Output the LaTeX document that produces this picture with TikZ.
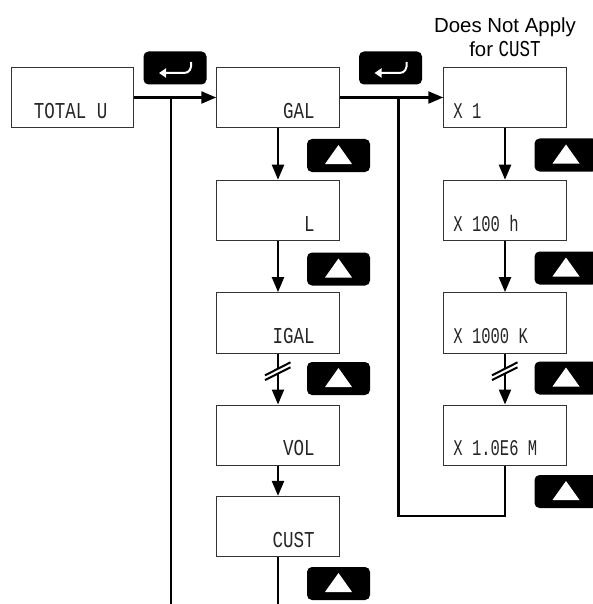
\documentclass[tikz,border=0pt]{standalone}
\usepackage{graphicx}
\usepackage{fontspec}
\setmainfont{Liberation Sans}
\newfontfamily\lcdfont{Liberation Mono}
\usetikzlibrary{arrows.meta,positioning}
\newcommand{\lcd}[1]{\scalebox{1}[1.3]{\lcdfont\fontsize{17.5}{17.5}\selectfont #1}}
\newcommand{\lcdn}[1]{\scalebox{1}[1.45]{\lcdfont\fontsize{15.5}{15.5}\selectfont #1}}

\begin{document}
\begin{tikzpicture}[
  x=1pt, y=-1pt,
  node distance=51pt and 82pt,
  disp/.style={rectangle, draw=black!80, line width=0.9pt, fill=white,
    minimum width=122.6pt, minimum height=60.5pt, inner sep=0pt},
  lbl/.style={inner sep=0pt, text=black!85},
  btn/.style={rectangle, rounded corners=5pt, fill=black, minimum width=63pt,
    minimum height=33pt, inner sep=0pt},
  upbtn/.style={btn, path picture={
    \fill[white, sharp corners] ([shift={(0,-10.5)}]path picture bounding box.center)
      -- ([shift={(13.5,8.5)}]path picture bounding box.center)
      -- ([shift={(-13.5,8.5)}]path picture bounding box.center) -- cycle;}},
  enterbtn/.style={btn, path picture={
    \draw[white, sharp corners, line width=2pt, -{Triangle[length=7pt,width=9pt]}]
      ([shift={(16,-6)}]path picture bounding box.center)
      .. controls ([shift={(17,1)}]path picture bounding box.center)
      and ([shift={(14,5)}]path picture bounding box.center)
      .. ([shift={(9,5)}]path picture bounding box.center)
      -- ([shift={(-16,5)}]path picture bounding box.center);}},
  wire/.style={line width=2.3pt, draw=black},
  arr/.style={wire, -{Triangle[length=15pt,width=12pt]}},
  brk/.pic={
    \fill[white] (-13,5) -- (12.5,-8) -- (12.5,-3) -- (-13,9.7) -- cycle;
    \draw[-, line width=2pt] (-13,5) -- (12.5,-8);
    \draw[-, line width=2pt] (-13,9.7) -- (12.5,-3);
  },
]
\clip (0,0) rectangle (593,604);
\useasboundingbox (0,0) rectangle (593,604);
\fill[white] (0,0) rectangle (593,604);

\node[disp] (total) at (72.5,97.5) {};
\node[disp, right=82pt of total] (gal) {};
\node[disp, below=51.5pt of gal] (liter) {};
\node[disp, below=of liter] (igal) {};
\node[disp, below=of igal] (vol) {};
\node[disp, below=30pt of vol] (cust) {};
\node[disp, right=103.5pt of gal] (xone) {};
\node[disp, below=51.5pt of xone] (xhund) {};
\node[disp, below=of xhund] (xthou) {};
\node[disp, below=of xthou] (xmeg) {};

% display readouts
\node[lbl, anchor=base west] (totaltxt) at ([shift={(23,-10)}]total.south west) {\lcd{TOTAL U}};
\node[lbl, anchor=base east] (galtxt) at ([shift={(-25,-10)}]gal.south east) {\lcd{GAL}};
\node[lbl, anchor=base east] (litertxt) at ([shift={(-25,-10)}]liter.south east) {\lcd{L}};
\node[lbl, anchor=base east] (igaltxt) at ([shift={(-25,-10)}]igal.south east) {\lcd{IGAL}};
\node[lbl, anchor=base east] (voltxt) at ([shift={(-25,-10)}]vol.south east) {\lcd{VOL}};
\node[lbl, anchor=base east] (custtxt) at ([shift={(-25,-10)}]cust.south east) {\lcd{CUST}};
\node[lbl, anchor=base west] (xonetxt) at ([shift={(10,-10)}]xone.south west) {\lcdn{X 1}};
\node[lbl, anchor=base west] (xhundtxt) at ([shift={(10,-10)}]xhund.south west) {\lcdn{X 100 h}};
\node[lbl, anchor=base west] (xthoutxt) at ([shift={(10,-10)}]xthou.south west) {\lcdn{X 1000 K}};
\node[lbl, anchor=base west] (xmegtxt) at ([shift={(10,-10)}]xmeg.south west) {\lcdn{X 1.0E6 M}};

\node[align=center, inner sep=0pt, font=\fontsize{20.4}{24.5}\selectfont, anchor=south] (note)
  at (505,57) {Does Not Apply\\for \lcd{CUST}};

\node[enterbtn] (enterone) at (175,68) {};
\node[enterbtn] (entertwo) at (390.5,68) {};
\node[upbtn] (upone) at (338.5,155.5) {};
\node[upbtn] (uptwo) at (338.5,269) {};
\node[upbtn] (upthree) at (338.5,378.5) {};
\node[upbtn] (upfour) at (338.5,583.5) {};
\node[upbtn] (upfive) at (566,155) {};
\node[upbtn] (upsix) at (566,268) {};
\node[upbtn] (upseven) at (566,378) {};
\node[upbtn] (upeight) at (566,491.5) {};

\coordinate (exitleft) at (171,97.5);
\coordinate (exitright) at (398.5,97.5);
\coordinate (leftend) at (171,604);
\coordinate (loopbot) at (398.5,516);

\draw[arr] (total) -- (gal);
\draw[arr] (gal) -- (xone);
\draw[wire] (exitleft) -- (leftend);
\draw[arr] (gal.south) -- (liter.north);
\draw[arr] (liter.south) -- (igal.north);
\draw[arr] (igal.south) -- pic[pos=0.33]{brk} (vol.north);
\draw[arr] (vol.south) -- (cust.north);
\draw[wire] (cust.south) -- (cust.south |- leftend);
\draw[arr] (xone.south) -- (xhund.north);
\draw[arr] (xhund.south) -- (xthou.north);
\draw[arr] (xthou.south) -- pic[pos=0.33]{brk} (xmeg.north);
\draw[wire] (xmeg.south) |- (loopbot) -- (exitright);
\end{tikzpicture}
\end{document}
